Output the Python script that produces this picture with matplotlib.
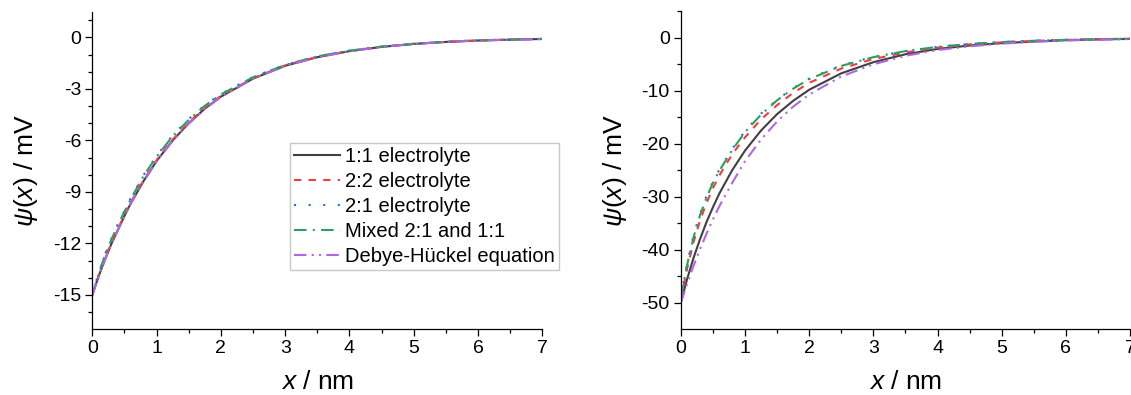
import matplotlib
matplotlib.use("Agg")
import matplotlib.pyplot as plt
import numpy as np

plt.rcParams["font.family"] = ["Liberation Sans", "DejaVu Sans"]
plt.rcParams["mathtext.fontset"] = "custom"
plt.rcParams["mathtext.rm"] = "Liberation Sans"
plt.rcParams["mathtext.it"] = "Liberation Sans:italic"
plt.rcParams["axes.unicode_minus"] = False

# ==========================
# data
# ==========================

x = [0, 0.1, 0.2, 0.3, 0.4, 0.5, 0.6, 0.8, 1.0, 1.25, 1.5, 1.75,
     2.0, 2.5, 3.0, 3.5, 4.0, 4.5, 5.0, 5.5, 6.0, 6.5, 7.0]

labels = ["1:1 electrolyte", "2:2 electrolyte", "2:1 electrolyte",
          "Mixed 2:1 and 1:1", "Debye-Hückel equation"]

# left panel, psi0 = -15 mV
left_11 = [-15, -13.9, -12.9, -12.0, -11.2, -10.4, -9.65, -8.35, -7.2, -6.0, -5.0, -4.15,
           -3.45, -2.4, -1.65, -1.15, -0.8, -0.55, -0.38, -0.26, -0.18, -0.13, -0.09]
left_22 = [-15, -13.85, -12.85, -11.95, -11.15, -10.35, -9.6, -8.3, -7.15, -5.95, -4.95, -4.1,
           -3.4, -2.38, -1.63, -1.13, -0.79, -0.54, -0.37, -0.26, -0.18, -0.12, -0.09]
left_21 = [-15, -13.7, -12.6, -11.7, -10.85, -10.1, -9.35, -8.0, -6.9, -5.7, -4.75, -3.95,
           -3.3, -2.3, -1.6, -1.1, -0.77, -0.53, -0.37, -0.25, -0.17, -0.12, -0.08]
left_mix = [-15, -13.75, -12.65, -11.75, -10.9, -10.15, -9.4, -8.05, -6.95, -5.75, -4.8, -3.98,
            -3.32, -2.32, -1.6, -1.1, -0.77, -0.53, -0.37, -0.25, -0.17, -0.12, -0.08]
left_dh = [-15, -13.92, -12.93, -12.02, -11.2, -10.42, -9.68, -8.38, -7.22, -6.02, -5.02, -4.17,
           -3.47, -2.41, -1.66, -1.16, -0.8, -0.55, -0.38, -0.26, -0.18, -0.13, -0.09]

# right panel, psi0 = -50 mV
right_11 = [-50, -45.5, -41.5, -38.0, -34.8, -32.0, -29.4, -25.0, -21.3, -17.5, -14.4, -11.9,
            -9.8, -6.7, -4.6, -3.1, -2.1, -1.45, -1.0, -0.7, -0.45, -0.3, -0.2]
right_22 = [-49.5, -43.5, -38.5, -34.5, -31.2, -28.4, -26.0, -22.0, -18.8, -15.4, -12.7, -10.4,
            -8.5, -5.8, -4.0, -2.75, -1.85, -1.25, -0.85, -0.58, -0.4, -0.27, -0.18]
right_21 = [-49, -42.5, -37.3, -33.2, -29.9, -27.2, -24.9, -21.0, -17.6, -14.3, -11.7, -9.5,
            -7.7, -5.2, -3.6, -2.5, -1.7, -1.15, -0.8, -0.55, -0.37, -0.25, -0.17]
right_mix = [-49, -42.8, -37.6, -33.5, -30.2, -27.4, -25.1, -21.2, -17.8, -14.5, -11.8, -9.6,
             -7.8, -5.3, -3.65, -2.5, -1.7, -1.15, -0.8, -0.55, -0.37, -0.25, -0.17]
right_dh = [-50, -46.4, -43.0, -39.9, -37.0, -34.3, -31.8, -27.4, -23.3, -19.2, -15.8, -13.0,
            -10.7, -7.3, -5.0, -3.4, -2.3, -1.6, -1.1, -0.75, -0.5, -0.35, -0.24]

colors = ["#404040", "#f03c3c", "#1f6fe0", "#2e9e5e", "#b066e6"]
dashes = [None, (3.5, 3.5), (1, 6), (6, 3, 1, 3), (6, 2.5, 1, 2.5, 1, 2.5)]

fig = plt.figure(figsize=(11.31, 3.95), dpi=100)
ax1 = fig.add_axes([0.0816, 0.1663, 0.3979, 0.8041])
ax2 = fig.add_axes([0.6019, 0.1663, 0.3973, 0.8050])


def draw(ax, series, ylim, major, minor):
    for y, lab, c, d in zip(series, labels, colors, dashes):
        line, = ax.plot(x, y, color=c, lw=1.5, label=lab)
        if d is not None:
            line.set_dashes(d)
    ax.set_xlim(0, 7)
    ax.set_ylim(*ylim)
    ax.set_xticks(range(0, 8))
    ax.set_xticks(np.arange(0.5, 7, 1), minor=True)
    ax.set_yticks(major)
    ax.set_yticks(minor, minor=True)
    ax.spines["top"].set_visible(False)
    ax.spines["right"].set_visible(False)
    for s in ["left", "bottom"]:
        ax.spines[s].set_linewidth(0.9)
    ax.tick_params(which="major", length=5, width=0.9, labelsize=14, pad=3)
    ax.tick_params(which="minor", length=3, width=0.9)
    ax.set_xlabel("$x$ / nm", fontsize=19, labelpad=9)
    ax.set_ylabel(r"$\psi$($x$) / mV", fontsize=19, labelpad=9)


draw(ax1, [left_11, left_22, left_21, left_mix, left_dh], (-17, 1.5),
     [0, -3, -6, -9, -12, -15], [1, -1, -2, -4, -5, -7, -8, -10, -11, -13, -14, -16])
draw(ax2, [right_11, right_22, right_21, right_mix, right_dh], (-55, 5),
     [0, -10, -20, -30, -40, -50], [5, -5, -15, -25, -35, -45])

leg = ax1.legend(loc="upper left", bbox_to_anchor=(0.439, 0.587), borderaxespad=0,
                 fontsize=14.5, frameon=True, fancybox=False, edgecolor="#c8c8c8",
                 framealpha=1, handlelength=2.3, handletextpad=0.25, labelspacing=0.3,
                 borderpad=0.2)
leg.get_frame().set_linewidth(1.0)

fig.savefig("out.png", dpi=100)
